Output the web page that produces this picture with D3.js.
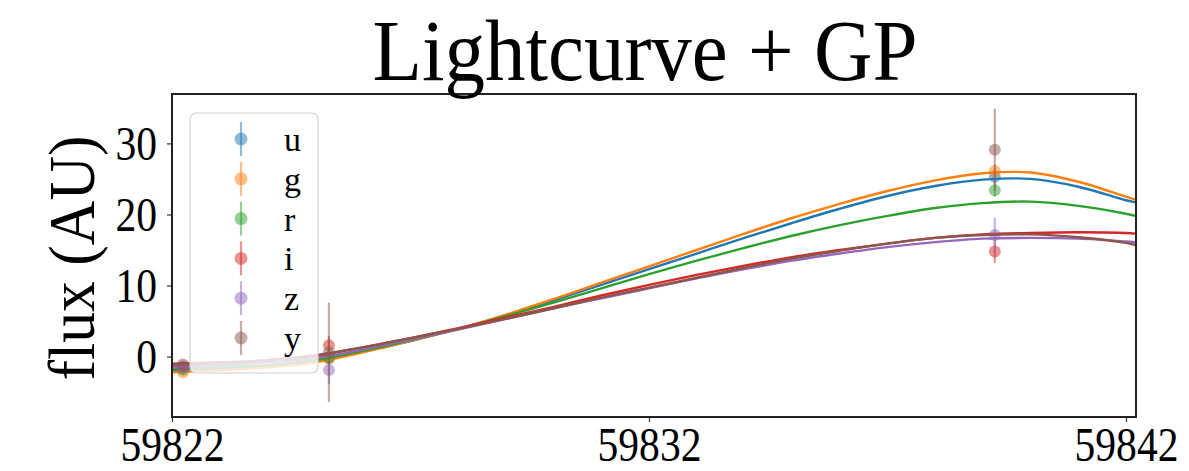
<!DOCTYPE html>
<html>
<head>
<meta charset="utf-8">
<script src="https://cdn.jsdelivr.net/npm/d3@7/dist/d3.min.js"></script>
<style>
  html, body { margin: 0; padding: 0; background: #fff; }
  svg { display: block; }
  text { font-family: "Liberation Serif", "DejaVu Serif", serif; fill: #000; }
</style>
</head>
<body>
<svg id="chart" width="1189" height="471"></svg>
<script>
// Passbands and their colours
const bands = ["u", "g", "r", "i", "z", "y"];
const bandColors = ["#1f77b4", "#ff7f0e", "#2ca02c", "#d62728", "#9467bd", "#8c564b"];

// GP mean prediction grid (MJD)
const gridDays = [59822, 59823, 59824, 59825, 59826, 59827, 59828, 59829, 59830, 59831,
                  59832, 59833, 59834, 59835, 59836, 59837, 59838, 59839, 59840, 59841,
                  59842, 59842.2];

// GP mean flux per band on the grid
const gpU = [-1.9, -1.7, -1.3, -0.6, 0.7, 2.2, 3.9, 5.8, 7.9, 10.1, 12.3, 14.5, 16.7, 18.8, 20.8, 22.6, 24.0, 24.9, 25.0, 23.9, 22.0, 21.7];
const gpG = [-2.2, -1.9, -1.5, -0.8, 0.6, 2.2, 3.9, 5.9, 8.1, 10.4, 12.7, 15.0, 17.3, 19.5, 21.5, 23.3, 24.8, 25.8, 25.9, 24.6, 22.5, 22.1];
const gpR = [-1.7, -1.5, -1.2, -0.5, 0.8, 2.3, 3.9, 5.7, 7.6, 9.6, 11.6, 13.5, 15.3, 17.0, 18.5, 19.8, 20.9, 21.6, 21.8, 21.2, 20.1, 19.8];
const gpI = [-1.3, -1.0, -0.5, 0.1, 1.3, 2.6, 4.0, 5.5, 7.0, 8.6, 10.1, 11.5, 12.8, 14.0, 15.0, 15.9, 16.7, 17.2, 17.4, 17.5, 17.4, 17.3];
const gpZ = [-1.5, -1.2, -0.8, -0.2, 1.0, 2.4, 3.8, 5.3, 6.8, 8.2, 9.6, 11.0, 12.3, 13.5, 14.5, 15.4, 16.1, 16.6, 16.7, 16.6, 16.2, 16.1];
const gpY = [-1.0, -0.8, -0.5, 0.2, 1.3, 2.6, 3.9, 5.3, 6.8, 8.3, 9.7, 11.1, 12.5, 13.8, 14.9, 15.9, 16.7, 17.1, 17.2, 16.8, 16.0, 15.7];

// Observation epochs (MJD)
const obsDays = [59822.23, 59825.29, 59839.25];

// Observed flux and uncertainty per band at each epoch
const obsU = [-1.6, -0.2, 25.3];
const errU = [0.3, 0.8, 1.0];
const obsG = [-2.2, -0.3, 26.1];
const errG = [0.3, 0.7, 1.0];
const obsR = [-1.8, -0.1, 23.4];
const errR = [0.3, 0.9, 0.9];
const obsI = [-1.4, 1.6, 14.8];
const errI = [0.3, 1.3, 1.6];
const obsZ = [-1.5, -1.9, 17.1];
const errZ = [0.3, 2.0, 2.4];
const obsY = [-1.1, 0.6, 29.1];
const errY = [0.3, 7.0, 5.8];

// Axis ticks
const xTicks = [59822, 59832, 59842];
const yTicks = [0, 10, 20, 30];

const gpSeries = [gpU, gpG, gpR, gpI, gpZ, gpY];
const obsSeries = [obsU, obsG, obsR, obsI, obsZ, obsY];
const errSeries = [errU, errG, errR, errI, errZ, errY];

const svg = d3.select("#chart");
const plot = { left: 172, right: 1136, top: 94, bottom: 417 };

const x = d3.scaleLinear().domain([59822, 59842.21]).range([plot.left, plot.right]);
const y = d3.scaleLinear().domain([-8.5, 36.95]).range([plot.bottom, plot.top]);

svg.append("clipPath").attr("id", "plotClip")
  .append("rect")
  .attr("x", plot.left).attr("y", plot.top)
  .attr("width", plot.right - plot.left).attr("height", plot.bottom - plot.top);

const inner = svg.append("g").attr("clip-path", "url(#plotClip)");

const line = d3.line()
  .x((d, i) => x(gridDays[i]))
  .y(d => y(d))
  .curve(d3.curveCatmullRom.alpha(0.5));

// Each band: error bars with markers, then the GP mean curve
bands.forEach((b, k) => {
  const c = bandColors[k];
  const g = inner.append("g").attr("class", "band-" + b);
  const pts = obsDays.map((t, i) => ({ t, v: obsSeries[k][i], e: errSeries[k][i] }));
  g.selectAll("line.err").data(pts).join("line")
    .attr("class", "err")
    .attr("x1", d => x(d.t)).attr("x2", d => x(d.t))
    .attr("y1", d => y(d.v - d.e)).attr("y2", d => y(d.v + d.e))
    .attr("stroke", c).attr("stroke-width", 2.2).attr("stroke-opacity", 0.5);
  g.selectAll("circle").data(pts).join("circle")
    .attr("cx", d => x(d.t)).attr("cy", d => y(d.v)).attr("r", 6)
    .attr("fill", c).attr("fill-opacity", 0.5);
  g.append("path")
    .datum(gpSeries[k])
    .attr("d", line)
    .attr("fill", "none")
    .attr("stroke", c)
    .attr("stroke-width", 2.4);
});

// Axes
const xAxis = svg.append("g")
  .attr("transform", `translate(0,${plot.bottom})`)
  .call(d3.axisBottom(x).tickValues(xTicks).tickFormat(d3.format("d")).tickSize(5).tickPadding(6));
const yAxis = svg.append("g")
  .attr("transform", `translate(${plot.left},0)`)
  .call(d3.axisLeft(y).tickValues(yTicks).tickFormat(d3.format("d")).tickSize(5).tickPadding(10));

[xAxis, yAxis].forEach(a => {
  a.select(".domain").remove();
  a.selectAll(".tick line").attr("stroke", "#333").attr("stroke-width", 1.2);
  a.selectAll(".tick text")
    .attr("font-size", 49)
    .attr("font-family", "Liberation Serif, serif")
    .attr("fill", "#000")
    .each(function () {
      const n = this.textContent.length;
      d3.select(this).attr("textLength", 20.8 * n).attr("lengthAdjust", "spacingAndGlyphs");
    });
});
xAxis.selectAll(".tick text").attr("dy", "0.68em");
yAxis.selectAll(".tick text").attr("dy", "0.33em");

// Frame
svg.append("rect")
  .attr("x", plot.left).attr("y", plot.top)
  .attr("width", plot.right - plot.left).attr("height", plot.bottom - plot.top)
  .attr("fill", "none").attr("stroke", "#222").attr("stroke-width", 2);

// Legend
const legend = svg.append("g");
legend.append("rect")
  .attr("x", 190).attr("y", 113).attr("width", 128).attr("height", 260)
  .attr("rx", 6).attr("ry", 6)
  .attr("fill", "#fff").attr("fill-opacity", 0.8)
  .attr("stroke", "#d0d0d0").attr("stroke-width", 1.2);
bands.forEach((b, k) => {
  const cy = 139 + k * 39.8;
  const c = bandColors[k];
  legend.append("line")
    .attr("x1", 241).attr("x2", 241).attr("y1", cy - 17).attr("y2", cy + 17)
    .attr("stroke", c).attr("stroke-width", 2.2).attr("stroke-opacity", 0.5);
  legend.append("circle")
    .attr("cx", 241).attr("cy", cy).attr("r", 6.5)
    .attr("fill", c).attr("fill-opacity", 0.5);
  legend.append("text")
    .attr("x", 284).attr("y", cy + 12)
    .attr("font-size", 34)
    .text(b);
});

// Title and y-axis label
svg.append("text")
  .attr("x", 645).attr("y", 80)
  .attr("text-anchor", "middle")
  .attr("font-size", 86)
  .attr("textLength", 545).attr("lengthAdjust", "spacingAndGlyphs")
  .text("Lightcurve + GP");

svg.append("text")
  .attr("transform", "translate(94,258) rotate(-90)")
  .attr("text-anchor", "middle")
  .attr("font-size", 66)
  .attr("textLength", 245).attr("lengthAdjust", "spacingAndGlyphs")
  .text("flux (AU)");
</script>
</body>
</html>
